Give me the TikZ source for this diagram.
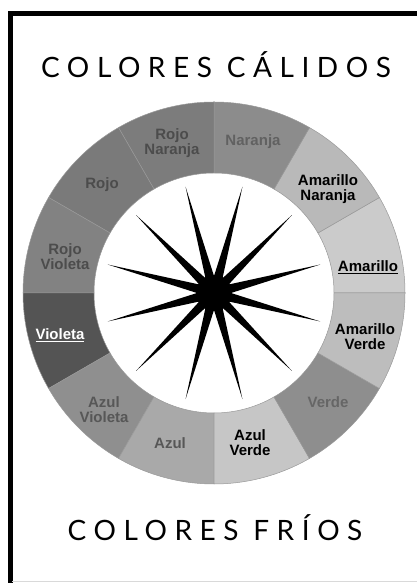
\documentclass[tikz,border=0pt]{standalone}
\usepackage{fontspec}
\setmainfont{Liberation Sans}
\newfontfamily\titlefont[LetterSpace=27]{Lato}
\tikzset{
    segment/.style={draw=black!40, line width=0.5pt},
    heading/.style={font=\titlefont\fontsize{28}{28}\selectfont, inner sep=0pt},
    colourname/.style={font=\bfseries\fontsize{15}{15}\selectfont,
                       align=center, inner sep=0pt},
    boldname/.style={colourname, text=black},
    softname/.style={colourname, text=black!66},
    paleword/.style={colourname, text=black!70},
}

\begin{document}
\begin{tikzpicture}[x=1pt,y=1pt]
    \path[use as bounding box] (0,0) rectangle (417,583);

    % frame
    \draw[line width=5pt] (417,569.5) -- (10,569.5) -- (10,0);
    \draw[black!15, line width=0.8pt] (12,1.5) -- (417,1.5);

    \node[heading] (calidos) at (216,518) {COLORES CÁLIDOS};
    \node[heading] (frios) at (215,55) {COLORES FRÍOS};

    \coordinate (centre) at (214,290);
    \begin{scope}[shift={(centre)}]
        \foreach \a/\tone in {0/CBCBCB, 30/B9B9B9, 60/8C8C8C, 90/7C7C7C,
                120/7A7A7A, 150/828282, 180/545454, 210/8F8F8F,
                240/A9A9A9, 270/C6C6C6, 300/8E8E8E, 330/BDBDBD} {
            \definecolor{segfill}{HTML}{\tone}
            \filldraw[segment, fill=segfill] (\a:120) -- (\a:191)
                arc[start angle=\a, end angle=\a+30, radius=191]
                -- (\a+30:120)
                arc[start angle=\a+30, end angle=\a, radius=120] -- cycle;
        }
        % star
        \fill (0:17) \foreach \k in {0,...,11} {
            -- (\k*30+15:110) -- (\k*30+30:17) } -- cycle;
        \fill (0,0) circle (18);
    \end{scope}

    \node[boldname] (amarillo) at (368,316) {\underline{Amarillo}};
    \node[boldname] (amarillonaranja) at (328,394) {Amarillo\\Naranja};
    \node[paleword, text=black!62] (naranja) at (253,441) {Naranja};
    \node[paleword] (rojonaranja) at (172,440) {Rojo\\Naranja};
    \node[paleword] (rojo) at (102,398) {Rojo};
    \node[paleword] (rojovioleta) at (65,326) {Rojo\\Violeta};
    \node[colourname, text=white] (violeta) at (60,248) {\underline{Violeta}};
    \node[softname] (azulvioleta) at (104,173) {Azul\\Violeta};
    \node[softname] (azul) at (170,140) {Azul};
    \node[boldname] (azulverde) at (250,140) {Azul\\Verde};
    \node[paleword, text=black!60] (verde) at (328,181) {Verde};
    \node[boldname] (amarilloverde) at (365,246) {Amarillo\\Verde};
\end{tikzpicture}
\end{document}
